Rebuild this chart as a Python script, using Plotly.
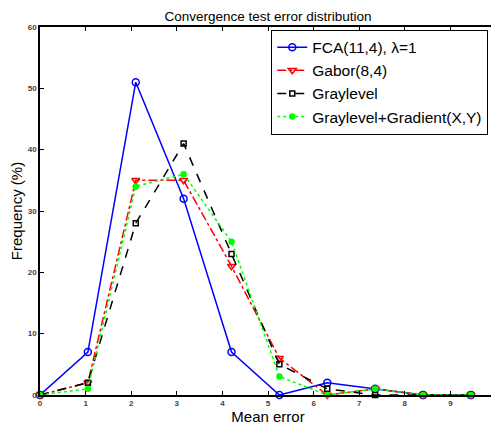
import plotly.graph_objects as go

x_vals = [0, 1.05, 2.1, 3.15, 4.2, 5.25, 6.3, 7.35, 8.4, 9.45]
fca = [0, 7, 51, 32, 7, 0, 2, 1, 0, 0]
gabor = [0, 2, 35, 35, 21, 6, 0, 1, 0, 0]
gray = [0, 2, 28, 41, 23, 5, 1, 0, 0, 0]
grad = [0, 1, 34, 36, 25, 3, 0, 1, 0, 0]

series = [
    ("FCA(11,4), λ=1", fca, "#0000ff", "solid", "circle-open", 7),
    ("Gabor(8,4)", gabor, "#ff0000", "dashdot", "triangle-down-open", 7),
    ("Graylevel", gray, "#000000", "dash", "square-open", 5),
    ("Graylevel+Gradient(X,Y)", grad, "#00ff00", "dot", "circle", 5),
]

fig = go.Figure()
for name, vals, color, dash, sym, sz in series:
    fig.add_trace(go.Scatter(
        x=x_vals, y=vals, name=name, mode="lines+markers",
        line=dict(color=color, width=1.5, dash=dash),
        marker=dict(symbol=sym, size=sz, color=color,
                    line=dict(color=color, width=1.5)),
        cliponaxis=False,
    ))

axis_common = dict(
    showline=True, linecolor="black", linewidth=1.5, mirror="ticks",
    ticks="inside", ticklen=4, tickcolor="black", tickwidth=1,
    showgrid=False, zeroline=False,
    tickfont=dict(family="Arial", size=8, color="#444444", weight="bold"),
)

# page body has an 8px margin, so the figure is offset by (8, 8)
fig.update_layout(
    width=491, height=418,
    margin=dict(l=31, r=1, t=19, b=31),
    paper_bgcolor="white", plot_bgcolor="white",
    title=dict(text="Convergence test error distribution",
               xref="paper", x=0.5, xanchor="center",
               yref="container", y=0.980, yanchor="middle",
               font=dict(family="Arial", size=13.5, color="black")),
    xaxis=dict(range=[0, 10], dtick=1, tick0=0,
               title=dict(text="Mean error", standoff=2,
                          font=dict(family="Arial", size=15, color="black")),
               **axis_common),
    yaxis=dict(range=[0, 60], dtick=10, tick0=0,
               title=dict(text="Frequency (%)", standoff=8,
                          font=dict(family="Arial", size=15, color="black")),
               **axis_common),
    legend=dict(x=0.983, y=0.993, xanchor="right", yanchor="top",
                bgcolor="white", bordercolor="black", borderwidth=1,
                font=dict(family="Arial", size=15.5, color="black"),
                tracegroupgap=0, itemwidth=30),
    showlegend=True,
)

fig.write_html("out.html")
